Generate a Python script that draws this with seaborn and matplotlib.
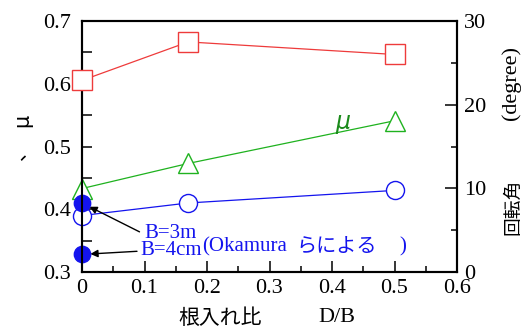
import matplotlib
matplotlib.use("Agg")
import matplotlib.pyplot as plt
import seaborn as sns
import pandas as pd
from matplotlib.ticker import MultipleLocator

sns.set_theme(style="white")
plt.rcParams['font.family'] = ['Liberation Serif', 'Noto Sans CJK JP']
plt.rcParams['text.color'] = 'black'
plt.rcParams['xtick.color'] = 'black'
plt.rcParams['ytick.color'] = 'black'

# data
db = [0.0, 0.17, 0.5]
mu_tri = [0.433, 0.473, 0.541]
mu_circ = [0.390, 0.410, 0.430]
rot_sq = [22.9, 27.5, 26.0]
okamura_x = [0.0, 0.0]
okamura_mu = [0.41, 0.328]
okamura_labels = ["B=3m", "B=4cm"]
x_ticks = [0, 0.1, 0.2, 0.3, 0.4, 0.5, 0.6]
x_ticklabels = ["0", "0.1", "0.2", "0.3", "0.4", "0.5", "0.6"]
y_ticks = [0.3, 0.4, 0.5, 0.6, 0.7]
y_ticklabels = ["0.3", "0.4", "0.5", "0.6", "0.7"]
y2_ticks = [0, 10, 20, 30]
y2_ticklabels = ["0", "10", "20", "30"]

RED = "#ee3b3b"
GREEN = "#1fb21f"
BLUE = "#1414ee"

fig = plt.figure(figsize=(5.27, 3.31), dpi=100)
ax = fig.add_axes([82/527, 1-272/331, (457-82)/527, (272-21)/331])
ax2 = ax.twinx()

df1 = pd.DataFrame({"x": db, "y": mu_tri})
df2 = pd.DataFrame({"x": db, "y": mu_circ})
df3 = pd.DataFrame({"x": db, "y": rot_sq})

sns.lineplot(data=df1, x="x", y="y", ax=ax, color=GREEN, marker="^", markersize=15,
             markerfacecolor="white", markeredgecolor=GREEN, markeredgewidth=1.0, linewidth=0.9,
             zorder=3, clip_on=False)
sns.lineplot(data=df2, x="x", y="y", ax=ax, color=BLUE, marker="o", markersize=13,
             markerfacecolor="white", markeredgecolor=BLUE, markeredgewidth=1.0, linewidth=0.9,
             zorder=3, clip_on=False)
sns.scatterplot(x=okamura_x, y=okamura_mu, ax=ax, color=BLUE, s=140, edgecolor=BLUE, zorder=5,
                clip_on=False)
sns.lineplot(data=df3, x="x", y="y", ax=ax2, color=RED, marker="s", markersize=14,
             markerfacecolor="white", markeredgecolor=RED, markeredgewidth=1.0, linewidth=0.9,
             zorder=3, clip_on=False)

ax.set_xlim(0, 0.6)
ax.set_ylim(0.3, 0.7)
ax2.set_ylim(0, 30)

for a in (ax, ax2):
    for s in a.spines.values():
        s.set_color("black")
        s.set_linewidth(1.5)
ax.xaxis.set_minor_locator(MultipleLocator(0.05))
ax.yaxis.set_minor_locator(MultipleLocator(0.05))
ax2.yaxis.set_minor_locator(MultipleLocator(5))
ax.tick_params(axis="x", which="major", direction="in", length=8, width=1.1, labelsize=16, pad=5,
               bottom=True)
ax.tick_params(axis="x", which="minor", direction="in", length=4.5, width=1.1, bottom=True)
ax.tick_params(axis="y", which="both", direction="in", length=7, width=1.1, labelsize=16, pad=8,
               left=True)
ax2.tick_params(axis="y", which="major", direction="in", length=8.5, width=1.1, labelsize=16,
                right=True, pad=5)
ax2.tick_params(axis="y", which="minor", direction="in", length=4, width=1.1, right=True)
ax.set_xticks(x_ticks)
ax.set_xticklabels(x_ticklabels)
ax.set_yticks(y_ticks)
ax.set_yticklabels(y_ticklabels)
ax2.set_yticks(y2_ticks)
ax2.set_yticklabels(y2_ticklabels)

ax.set_xlabel("")
ax.set_ylabel("")
ax2.set_ylabel("")

jp = ['Noto Sans CJK JP', 'Liberation Serif']
fig.text(220/527, 1-318/331, "根入れ比", fontsize=15, family=jp, ha="center", va="center")
fig.text(337/527, 1-317/331, "D/B", fontsize=16, family="Liberation Serif", ha="center", va="center")
fig.text(22/527, 1-120/331, "μ", fontsize=15, family="DejaVu Sans", rotation=90,
         ha="center", va="center")
fig.text(19/527, 1-150/331, "、", fontsize=14, family=jp, rotation=90, ha="center", va="center")
fig.text(513/527, 1-207/331, "回転角", fontsize=13.5, family=jp, rotation=90, ha="center", va="center")
fig.text(511/527, 1-83/331, "(degree)", fontsize=16, family="Liberation Serif", rotation=90,
         ha="center", va="center")

ax.text(0.418, 0.539, "μ", color="#1a8a1a", fontsize=17, style="italic", family="DejaVu Sans",
        ha="center", va="center")

# annotations
ax.annotate("", xy=(okamura_x[0], okamura_mu[0]), xytext=(0.092, 0.364),
            arrowprops=dict(arrowstyle="-|>", color="black", lw=1.0, mutation_scale=11,
                            shrinkA=0, shrinkB=6))
ax.annotate("", xy=(okamura_x[1], okamura_mu[1]), xytext=(0.088, 0.333),
            arrowprops=dict(arrowstyle="-|>", color="black", lw=1.0, mutation_scale=11,
                            shrinkA=0, shrinkB=6))
ax.text(0.142, 0.362, okamura_labels[0], color=BLUE, fontsize=15, ha="center", va="center")
ax.text(0.142, 0.334, okamura_labels[1], color=BLUE, fontsize=15, ha="center", va="center")
ax.text(0.1915, 0.340, "(Okamura", color=BLUE, fontsize=15, ha="left", va="center")
ax.text(0.343, 0.340, "らによる", color=BLUE, fontsize=14.5, family=jp, ha="left", va="center")
ax.text(0.507, 0.340, ")", color=BLUE, fontsize=15, ha="left", va="center")

fig.savefig("out.png", dpi=100)
